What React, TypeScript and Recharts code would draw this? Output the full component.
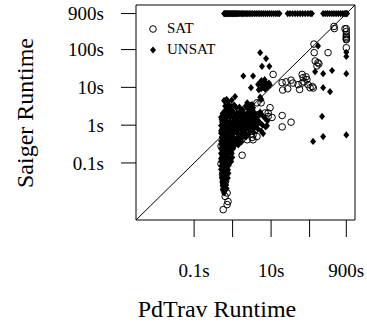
import { ScatterChart, Scatter, XAxis, YAxis, ReferenceLine, ReferenceArea, Label } from 'recharts'

// both axes share the same log range (seconds)
const LO = 0.00309
const HI = 1514
const TIMEOUT = 900

const tickValues = [0.1, 1, 10, 100, 900]
const xTickLabels: Record<number, string> = { 0.1: '0.1s', 10: '10s', 900: '900s' }
const yTickLabels: Record<number, string> = { 0.1: '0.1s', 1: '1s', 10: '10s', 100: '100s', 900: '900s' }

// UNSAT instances where Saiger hit the timeout (PdTrav runtime)
const unsatSaigerTimeoutX = [
  0.6, 0.63, 0.66, 0.7, 0.73, 0.77, 0.81, 0.85, 0.9, 0.95, 1.0, 1.06, 1.12, 1.19, 1.27, 1.35,
  1.45, 1.55, 1.67, 1.8, 1.95, 2.1, 2.3, 2.5, 2.75, 3.0, 3.3, 3.7, 4.1, 4.6, 5.1, 5.7, 6.4,
  7.2, 8.1, 9.1, 10.3, 11.7, 13.3, 15, 16.5, 27, 31, 36, 42, 49, 57, 66, 77, 90, 104, 115,
  225, 255, 290, 330, 380, 430, 490, 560, 640, 720, 800, 870, 900, 940,
]

// instances where PdTrav hit the timeout (Saiger runtime)
const satPdTravTimeoutY = [357, 300, 250, 225, 206, 190, 183, 112]
const unsatPdTravTimeoutY = [85, 66, 23, 0.55]

// [PdTrav, Saiger] runtimes
const satRuns: [number, number][] = [
  [430, 410], [440, 360], [830, 357], [130, 140], [302, 83], [132, 83], [140, 50], [165, 45],
  [175, 42], [155, 37],
  [11.3, 22], [19.3, 13.3], [20, 8.5], [24.5, 14], [27, 9.2], [33, 15.5], [37, 13], [50, 11.8],
  [55, 8.8], [64, 22], [68, 18], [64, 13], [72, 14], [81, 19], [85, 16], [91, 11.8], [103, 9.8],
  [118, 10.5], [125, 9.6],
  [19.4, 1.8], [33, 1.2], [19.4, 0.9],
  [5.5, 3.9], [4.3, 3.9], [9.4, 2.9], [8.4, 2.1], [7, 2.1], [10.6, 1.6], [8.4, 1.7], [4.6, 1.9],
  [2.5, 2.3], [3.9, 0.76], [3.4, 0.56], [4.3, 0.5], [3.2, 0.47], [3.4, 0.41], [2.4, 0.41],
  [1.0, 0.27], [1.77, 0.16], [1.77, 1.15], [1.3, 1.5], [2.0, 1.4], [2.8, 1.3], [1.5, 0.7], [0.9, 0.55],
  [0.6, 0.35], [0.5, 0.28], [0.7, 0.2], [0.56, 0.17], [0.62, 0.13], [0.72, 0.11], [0.5, 0.095],
  [0.6, 0.07], [0.66, 0.06], [0.55, 0.05], [0.6, 0.04], [0.66, 0.033], [0.58, 0.03], [0.62, 0.026],
  [0.6, 0.02], [0.72, 0.016], [0.64, 0.013], [0.76, 0.0095], [0.72, 0.0079], [0.57, 0.0058],
]

const unsatRuns: [number, number][] = [
  [5.2, 83], [7.4, 58], [5.8, 36], [9.0, 36], [1.9, 20], [3.4, 20], [3.0, 9.8],
  [4.6, 12], [5.2, 13.5], [5.8, 11], [6.4, 12.5], [7, 14], [7.6, 11.5], [8.2, 12], [8.8, 13],
  [6.2, 9.8], [7, 9], [5.5, 9.2], [8, 10], [4.8, 8.6], [9.3, 11.5], [6.8, 16], [5.6, 15],
  [5.2, 5.5], [5.6, 4.8],
  [166, 125], [139, 26], [225, 23], [384, 28], [225, 9.8], [340, 7.7], [211, 1.7], [123, 0.37],
  [225, 0.5], [6.2, 0.6], [4.6, 1.1], [7.8, 0.97], [5.2, 2.2], [6, 1.8], [7, 1.5], [8, 1.3],
  [0.6, 4.5], [0.7, 4.8], [0.76, 4.2], [0.95, 4.6], [1.16, 5.7], [0.64, 3.2], [0.75, 2.7],
  [0.9, 3.0], [2.4, 3.9], [3.4, 2.9], [3.2, 3.5], [2.4, 3.1],
  [0.62, 4.3], [0.78, 3.6], [0.95, 3.1], [1.1, 3.4], [1.25, 2.9], [1.5, 3.0], [1.8, 2.6],
  [2.2, 3.2], [2.5, 2.8], [3.0, 3.4], [3.3, 2.5], [2.8, 2.2], [2.0, 2.0], [1.6, 2.3], [1.3, 2.1],
  [1.0, 2.4], [0.8, 2.2], [0.65, 2.5], [0.58, 2.0], [0.7, 1.8], [0.9, 1.7], [1.15, 1.6], [1.4, 1.8],
  [1.7, 1.5], [2.1, 1.7], [2.6, 1.6], [3.1, 1.8], [3.6, 1.5], [4.2, 1.3], [5.0, 1.2], [6.0, 1.0],
  [7.2, 0.9], [5.5, 0.7], [4.5, 0.8], [3.8, 1.0], [3.2, 1.2], [2.7, 1.1], [2.3, 1.3], [1.9, 1.2],
  [1.55, 1.1], [1.25, 1.25], [1.0, 1.05], [0.82, 1.2], [0.68, 1.3], [0.58, 1.1], [0.52, 1.4],
  [0.55, 0.9], [0.7, 0.85], [0.85, 0.95], [1.1, 0.85], [1.35, 0.9], [1.6, 0.8], [2.0, 0.9],
  [2.5, 0.85], [3.0, 0.75], [3.5, 0.65], [2.2, 0.6], [1.8, 0.55], [1.4, 0.6], [1.15, 0.65],
  [0.95, 0.7], [0.78, 0.6], [0.62, 0.65], [0.5, 0.7], [0.55, 0.5], [0.7, 0.5], [0.88, 0.48],
  [1.05, 0.45], [1.3, 0.42], [1.6, 0.38], [1.2, 0.33], [0.95, 0.35], [0.75, 0.38], [0.6, 0.4],
  [0.52, 0.32], [0.65, 0.3], [0.85, 0.28], [1.0, 0.25],
  [0.55, 0.3], [0.65, 0.27], [0.5, 0.24], [0.72, 0.22], [0.6, 0.2], [0.52, 0.18], [0.68, 0.16],
  [0.58, 0.15], [0.75, 0.14], [0.5, 0.13], [0.63, 0.12], [0.55, 0.105], [0.7, 0.1], [0.6, 0.09],
  [0.52, 0.08], [0.66, 0.075], [0.57, 0.068], [0.62, 0.06], [0.53, 0.055], [0.68, 0.05],
  [0.58, 0.045], [0.63, 0.04], [0.55, 0.036], [0.6, 0.032], [0.65, 0.028], [0.56, 0.025],
  [0.6, 0.022], [0.58, 0.018],
]

// the dense bulk of small UNSAT instances around 0.5s-4s
const unsatBulk: [number, number][] = [
  [0.55, 2.05], [0.72, 1.95], [0.9, 2.1], [1.15, 1.9], [1.45, 2.05], [1.85, 1.95], [2.4, 2.1],
  [3.0, 1.9], [3.8, 2.05], [4.8, 1.95],
  [0.5, 1.62], [0.66, 1.55], [0.84, 1.65], [1.05, 1.52], [1.35, 1.6], [1.7, 1.66], [2.2, 1.54],
  [2.8, 1.62], [3.5, 1.56], [4.4, 1.6],
  [0.53, 1.22], [0.69, 1.28], [0.88, 1.2], [1.12, 1.27], [1.4, 1.22], [1.8, 1.29], [2.3, 1.21],
  [2.9, 1.26], [3.7, 1.2], [4.5, 1.27],
  [0.5, 0.98], [0.64, 0.95], [0.8, 1.0], [1.02, 0.94], [1.3, 0.99], [1.65, 0.95], [2.1, 1.0],
  [2.65, 0.94], [3.3, 0.98], [4.1, 0.95],
  [0.52, 0.77], [0.68, 0.74], [0.86, 0.78], [1.1, 0.75], [1.4, 0.77], [1.75, 0.74], [2.2, 0.78],
  [2.8, 0.75], [3.4, 0.77],
  [0.5, 0.61], [0.64, 0.58], [0.82, 0.62], [1.05, 0.59], [1.32, 0.61], [1.68, 0.58], [2.1, 0.62],
  [2.6, 0.59],
  [0.52, 0.48], [0.67, 0.46], [0.85, 0.49], [1.08, 0.46], [1.37, 0.48], [1.75, 0.46], [2.2, 0.48],
  [0.5, 0.38], [0.64, 0.36], [0.82, 0.38], [1.05, 0.36], [1.32, 0.38], [1.7, 0.36],
  [0.52, 0.3], [0.68, 0.29], [0.86, 0.3], [1.1, 0.29], [1.4, 0.3],
  [0.52, 0.23], [0.66, 0.235], [0.82, 0.225], [1.0, 0.23],
  [0.5, 0.18], [0.63, 0.185], [0.78, 0.175], [0.95, 0.18],
  [0.52, 0.14], [0.66, 0.145], [0.82, 0.138], [0.98, 0.14],
  [0.5, 0.11], [0.62, 0.112], [0.77, 0.108], [0.92, 0.11],
  [0.52, 0.086], [0.65, 0.084], [0.8, 0.087],
  [0.5, 0.067], [0.62, 0.065], [0.76, 0.066],
  [0.53, 0.052], [0.66, 0.051], [0.78, 0.053],
  [0.52, 0.041], [0.64, 0.042], [0.75, 0.04],
  [0.54, 0.032], [0.66, 0.033],
  [0.55, 0.025], [0.68, 0.026],
  [0.56, 0.02], [0.7, 0.021],
  [0.6, 0.016],
]

const satData = [
  ...satRuns.map(([x, y]) => ({ x, y })),
  ...satPdTravTimeoutY.map((y) => ({ x: TIMEOUT, y })),
]
const unsatData = [
  ...unsatRuns.map(([x, y]) => ({ x, y })),
  ...unsatBulk.map(([x, y]) => ({ x, y })),
  ...unsatSaigerTimeoutX.map((x) => ({ x, y: TIMEOUT })),
  ...unsatPdTravTimeoutY.map((y) => ({ x: TIMEOUT, y })),
]

const FONT = '"Liberation Serif", "Times New Roman", serif'

function OpenCircle(props: any) {
  const { cx, cy } = props
  if (cx == null || cy == null) return null
  return <circle cx={cx} cy={cy} r={3.3} fill="none" stroke="#000" strokeWidth={1} />
}

function Diamond(props: any) {
  const { cx, cy } = props
  if (cx == null || cy == null) return null
  return (
    <polygon
      points={`${cx},${cy - 3.6} ${cx + 3},${cy} ${cx},${cy + 3.6} ${cx - 3},${cy}`}
      fill="#000"
    />
  )
}

function LegendBox() {
  const row = { display: 'flex', alignItems: 'center', height: 21 }
  return (
    <div style={{ position: 'absolute', left: 148, top: 18, fontFamily: FONT, fontSize: 15 }}>
      <div style={row}>
        <svg width={19} height={12}>
          <circle cx={5} cy={6} r={3.3} fill="none" stroke="#000" />
        </svg>
        <span>SAT</span>
      </div>
      <div style={row}>
        <svg width={19} height={12}>
          <polygon points="5,2.4 8,6 5,9.6 2,6" fill="#000" />
        </svg>
        <span>UNSAT</span>
      </div>
    </div>
  )
}

export default function App() {
  return (
    <div style={{ position: 'absolute', left: 0, top: 0, width: 367, height: 322, background: '#fff' }}>
      <ScatterChart width={367} height={322} margin={{ top: 5, right: 12, left: 0, bottom: 0 }}>
        <XAxis
          type="number"
          dataKey="x"
          scale="log"
          domain={[LO, HI]}
          allowDataOverflow
          ticks={tickValues}
          interval={0}
          tickFormatter={(v: number) => xTickLabels[v] ?? ''}
          axisLine={false}
          tickLine={{ stroke: '#000' }}
          tickSize={17}
          tickMargin={27}
          height={102}
          tick={{ fontSize: 19, fill: '#000', fontFamily: FONT }}
        >
          <Label
            content={() => (
              <text x={217} y={317} textAnchor="middle" fontSize={24} fontFamily={FONT} fill="#000">
                PdTrav Runtime
              </text>
            )}
          />
        </XAxis>
        <YAxis
          type="number"
          dataKey="y"
          scale="log"
          domain={[LO, HI]}
          allowDataOverflow
          ticks={tickValues}
          interval={0}
          tickFormatter={(v: number) => yTickLabels[v] ?? ''}
          axisLine={false}
          tickLine={{ stroke: '#000' }}
          tickSize={15}
          tickMargin={17}
          width={136}
          tick={{ fontSize: 19, fill: '#000', fontFamily: FONT }}
        >
          <Label
            content={() => (
              <text
                x={33}
                y={113}
                transform="rotate(-90, 33, 113)"
                textAnchor="middle"
                fontSize={24}
                fontFamily={FONT}
                fill="#000"
              >
                Saiger Runtime
              </text>
            )}
          />
        </YAxis>
        <ReferenceArea x1={LO} x2={HI} y1={LO} y2={HI} fill="none" stroke="#000" strokeWidth={1} ifOverflow="visible" />
        <ReferenceLine
          segment={[{ x: LO, y: LO }, { x: HI, y: HI }]}
          stroke="#000"
          strokeWidth={1}
          ifOverflow="visible"
        />
        <Scatter name="SAT" data={satData} shape={OpenCircle} isAnimationActive={false} />
        <Scatter name="UNSAT" data={unsatData} shape={Diamond} isAnimationActive={false} />
      </ScatterChart>
      <LegendBox />
    </div>
  )
}
